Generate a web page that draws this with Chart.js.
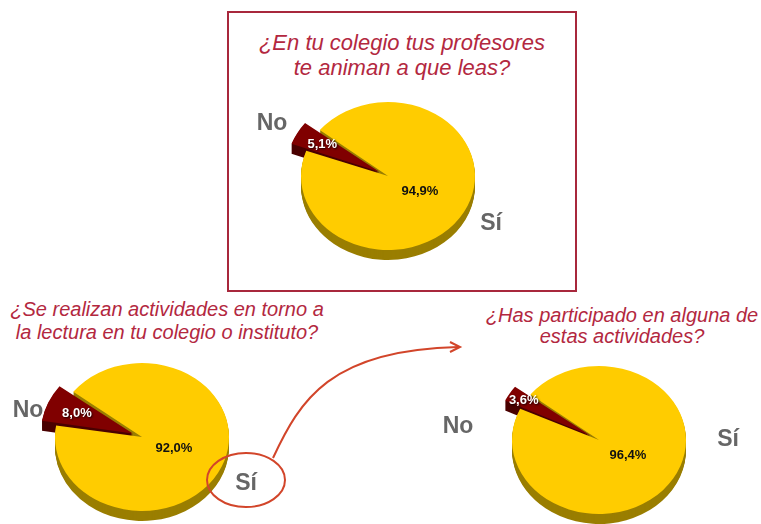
<!DOCTYPE html>
<html lang="es">
<head>
<meta charset="UTF-8">
<title>Lectura en el colegio</title>
<script src="https://cdn.jsdelivr.net/npm/chart.js@4"></script>
<style>
  html, body { margin: 0; padding: 0; overflow: hidden; background: #fff; }
  body { width: 761px; height: 524px; position: relative; font-family: 'Liberation Sans', Arial, sans-serif; }
  canvas { position: absolute; }
  .box { position: absolute; left: 227px; top: 11px; width: 346px; height: 277px; border: 2px solid #a8283c; }
  .title { position: absolute; color: #b3283f; font-style: italic; text-align: center; white-space: nowrap; }
  .answer { position: absolute; color: #666; font-weight: bold; font-size: 23px; transform: translate(-50%, -50%); }
  svg { position: absolute; left: 0; top: 0; }
</style>
</head>
<body>

<div class="box"></div>
<div class="title" style="left:227px; top:30px; width:350px; font-size:22px; line-height:25px;">¿En tu colegio tus profesores<br>te animan a que leas?</div>
<div class="title" style="left:0; top:298px; width:334px; font-size:20px; line-height:23px;">¿Se realizan actividades en torno a<br>la lectura en tu colegio o instituto?</div>
<div class="title" style="left:472px; top:305px; width:300px; font-size:20px; line-height:21px;">¿Has participado en alguna de<br>estas actividades?</div>

<canvas id="animan" width="260" height="230" style="left:258px; top:61px;"></canvas>
<canvas id="actividades" width="260" height="230" style="left:12px; top:322px;"></canvas>
<canvas id="participado" width="260" height="230" style="left:469px; top:325px;"></canvas>

<div id="answers"></div>

<svg width="761" height="524">
  <ellipse cx="246" cy="480" rx="39" ry="27" fill="none" stroke="#d2452a" stroke-width="2"/>
  <path d="M 273 458 C 300 400, 330 350, 458 347" fill="none" stroke="#d2452a" stroke-width="2"/>
  <path d="M 450 342 L 460 347 L 450 352" fill="none" stroke="#d2452a" stroke-width="2"/>
</svg>

<script>
const answers = ['No', 'Sí'];
const animanValues = [5.1, 94.9];
const actividadesValues = [8.0, 92.0];
const participadoValues = [3.6, 96.4];

const colors = ['#800000', '#ffcc00'];
const rimColors = ['#4a0000', '#9a7e00'];
const TILT = 0.85;   // flatten the pie a bit
const DEPTH = 10;    // thickness of the 3d rim

function fmt(v) {
  return v.toFixed(1).replace('.', ',') + '%';
}

// same geometry ArcElement.draw uses, so the rim lines up with the slice
function slicePath(ctx, a, dy) {
  const off = (a.options.offset || 0) / 4;
  const circ = a.endAngle - a.startAngle;
  const mid = (a.startAngle + a.endAngle) / 2;
  const ro = off * (1 - Math.sin(Math.min(Math.PI, circ)));
  const r = a.outerRadius + ro;
  const beta = Math.max(0.001, circ * r - ro / Math.PI) / r;
  const s = a.startAngle + (circ - beta) / 2;
  const e = a.endAngle - (circ - beta) / 2;
  const cx = a.x + Math.cos(mid) * off;
  const cy = a.y + Math.sin(mid) * off + dy;
  ctx.beginPath();
  ctx.moveTo(cx, cy);
  ctx.arc(cx, cy, r, s, e);
  ctx.closePath();
}

const pie3d = {
  id: 'pie3d',
  beforeDatasetsDraw(chart) {
    const ctx = chart.ctx;
    const arcs = chart.getDatasetMeta(0).data;
    const { x, y } = arcs[0];
    ctx.save();
    ctx.translate(x, y);
    ctx.scale(1, TILT);
    ctx.translate(-x, -y);
    for (let d = DEPTH; d > 0; d--) {
      arcs.forEach((a, i) => {
        slicePath(ctx, a, d / TILT);
        ctx.fillStyle = rimColors[i];
        ctx.fill();
      });
    }
  },
  afterDatasetsDraw(chart, args, opts) {
    const ctx = chart.ctx;
    ctx.restore();
    const arcs = chart.getDatasetMeta(0).data;
    const values = chart.data.datasets[0].data;
    ctx.save();
    ctx.font = 'bold 13px "Liberation Sans", Arial, sans-serif';
    ctx.textAlign = 'center';
    ctx.textBaseline = 'middle';
    arcs.forEach((a, i) => {
      const mid = (a.startAngle + a.endAngle) / 2;
      const dist = (a.options.offset || 0) / 4 + opts.k[i] * a.outerRadius;
      const px = a.x + Math.cos(mid) * dist;
      const py = a.y + Math.sin(mid) * dist * TILT;
      if (i === 0) {
        ctx.fillStyle = '#fff';
        ctx.shadowColor = 'rgba(0,0,0,0.8)';
        ctx.shadowBlur = 2;
        ctx.shadowOffsetX = 1;
        ctx.shadowOffsetY = 1;
      } else {
        ctx.fillStyle = '#111';
        ctx.shadowColor = 'transparent';
      }
      ctx.fillText(fmt(values[i]), px, py);
    });
    ctx.restore();
  }
};

function makePie(id, values, rotation, k) {
  return new Chart(document.getElementById(id), {
    type: 'pie',
    data: {
      labels: answers,
      datasets: [{
        data: values,
        backgroundColor: colors,
        borderWidth: 0,
        offset: [40, 0],
        clip: false
      }]
    },
    options: {
      responsive: false,
      animation: false,
      events: [],
      rotation: rotation,
      radius: 87,
      plugins: {
        legend: { display: false },
        tooltip: { enabled: false },
        pie3d: { k: k }
      }
    },
    plugins: [pie3d]
  });
}

makePie('animan', animanValues, 290, [0.75, 0.42]);
makePie('actividades', actividadesValues, 279, [0.7, 0.4]);
makePie('participado', participadoValues, 295, [0.9, 0.39]);

// No / Sí captions next to each pie
const answerSpots = [
  [[272, 122], [491, 222]],
  [[28, 409], [246, 482]],
  [[458, 425], [728, 438]]
];
const holder = document.getElementById('answers');
answerSpots.forEach(pair => {
  pair.forEach((p, i) => {
    const s = document.createElement('span');
    s.className = 'answer';
    s.style.left = p[0] + 'px';
    s.style.top = p[1] + 'px';
    s.textContent = answers[i];
    holder.appendChild(s);
  });
});
</script>
</body>
</html>
